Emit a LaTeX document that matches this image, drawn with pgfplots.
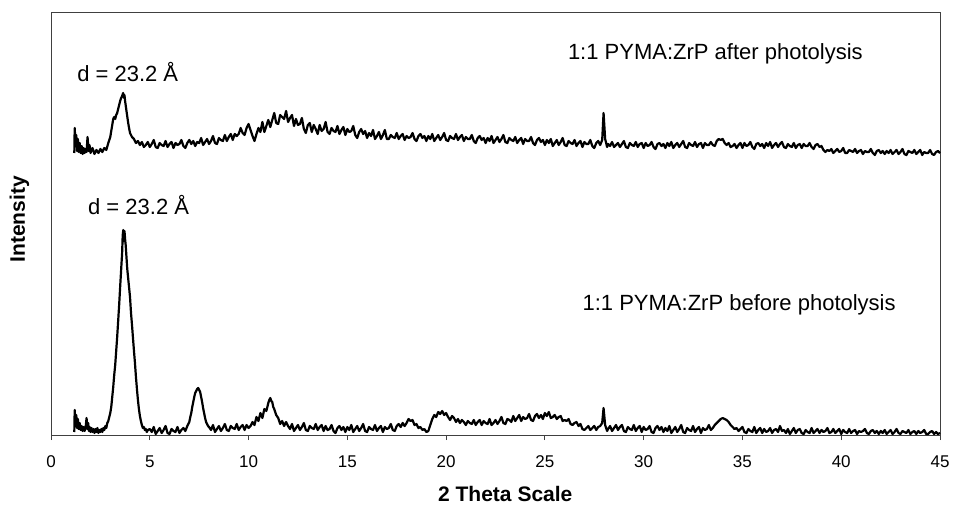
\documentclass[border=0pt]{standalone}
\usepackage{fontspec}
\setmainfont{Liberation Sans}
\usepackage{pgfplots}
\pgfplotsset{compat=1.18}
\begin{document}
\begin{tikzpicture}
\begin{axis}[
  scale only axis, width=889pt, height=423pt,
  xmin=0, xmax=45, ymin=0, ymax=423,
  xtick={0,5,...,45}, ytick=\empty,
  xtick pos=bottom, tick align=outside,
  major tick length=5pt,
  axis line style={line width=0.8pt, black!75},
  tick style={line width=0.8pt, black!75},
  /pgf/number format/assume math mode=true,
  xticklabel style={font=\fontsize{17}{17}\selectfont, anchor=north, yshift=-12pt},
  xlabel={2 Theta Scale},
  xlabel style={font=\fontsize{21}{21}\selectfont\bfseries, at={(rel axis cs:0.511,0)}, anchor=base, yshift=-66pt},
  ylabel={Intensity},
  ylabel style={font=\fontsize{21}{21}\selectfont\bfseries, at={(rel axis cs:0,0.51)}, anchor=center, yshift=31.5pt},
  clip=false,
]
% before photolysis
\addplot[black, line width=2.2pt, line join=round] coordinates {
(1.18,3)(1.20,25)(1.24,10)(1.28,20)(1.32,7)(1.36,16)(1.40,6)(1.45,12)(1.50,5)(1.55,9)(1.60,4)(1.65,8)(1.70,4)(1.75,7)(1.80,17)(1.84,6)(1.88,12)(1.92,4)(1.96,8)
(2.00,3)(2.05,7)(2.10,3)(2.15,6)(2.20,2)(2.25,6)(2.30,3)(2.35,7)(2.40,2)(2.45,5)(2.50,3)(2.55,6)(2.60,3)(2.65,7)(2.70,5)(2.75,9)(2.80,7)(2.85,12)(2.90,14)(2.95,18)
(3.00,22)(3.05,28)(3.10,38)(3.15,48)(3.20,60)(3.25,70)(3.30,84)(3.35,98)(3.40,114)(3.45,130)(3.50,148)(3.55,165)(3.60,182)(3.63,200)(3.66,205)(3.69,194)(3.72,204)(3.75,196)(3.78,190)(3.82,178)(3.86,166)(3.90,158)(3.95,148)
(4.00,138)(4.05,122)(4.10,110)(4.15,97)(4.20,84)(4.25,72)(4.30,58)(4.35,46)(4.40,35)(4.45,26)(4.50,19)(4.55,14)(4.60,10)(4.65,7)(4.70,8)(4.75,5)(4.80,6)(4.85,3)(4.90,5)
(5.0,6)(5.1,3)(5.2,8)(5.3,1)(5.4,4)(5.5,7)(5.6,2)(5.7,5)(5.8,9)(5.9,2)(6.0,1)(6.1,6)(6.2,4)(6.3,3)(6.4,8)(6.5,2)(6.6,5)(6.7,7)(6.8,4)(6.9,9)
(7.0,13)(7.05,18)(7.10,22)(7.15,28)(7.20,33)(7.25,38)(7.30,42)(7.35,44)(7.40,46)(7.45,47)(7.50,45)(7.55,43)(7.60,38)(7.65,33)(7.70,27)(7.75,22)(7.80,17)(7.85,13)(7.90,11)(7.95,9)
(8.0,8)(8.1,5)(8.2,10)(8.3,3)(8.4,6)(8.5,9)(8.6,4)(8.7,7)(8.8,11)(8.9,5)(9.0,4)(9.1,9)(9.2,7)(9.3,6)(9.4,11)(9.5,5)(9.6,8)(9.7,10)(9.8,5)(9.9,10)(10.0,7)(10.1,9)
(10.2,13)(10.3,10)(10.4,18)(10.5,14)(10.6,22)(10.7,17)(10.8,26)(10.9,24)(11.0,32)(11.05,35)(11.1,37)(11.15,34)(11.2,33)(11.25,28)(11.3,26)(11.4,20)(11.5,17)(11.6,11)(11.7,14)(11.8,9)(11.9,13)
(12.0,9)(12.1,6)(12.2,11)(12.3,4)(12.4,7)(12.5,10)(12.6,5)(12.7,8)(12.8,12)(12.9,5)(13.0,4)(13.1,9)(13.2,7)(13.3,6)(13.4,11)(13.5,5)(13.6,8)(13.7,10)(13.8,4)(13.9,9)
(14.0,5)(14.1,6)(14.2,10)(14.3,4)(14.4,2)(14.5,7)(14.6,9)(14.7,5)(14.8,8)(14.9,3)(15.0,8)(15.1,5)(15.2,10)(15.3,3)(15.4,6)(15.5,9)(15.6,4)(15.7,7)(15.8,11)(15.9,4)
(16.0,3)(16.1,8)(16.2,6)(16.3,5)(16.4,10)(16.5,4)(16.6,7)(16.7,9)(16.8,3)(16.9,8)(17.0,6)(17.1,7)(17.2,11)(17.3,5)(17.4,4)(17.5,9)(17.6,11)(17.7,8)(17.8,12)(17.9,9)
(18.0,12)(18.1,16)(18.2,14)(18.3,15)(18.4,10)(18.5,11)(18.6,7)(18.7,8)(18.8,5)(18.9,6)(19.0,3)(19.1,4)(19.2,10)(19.3,16)(19.4,20)(19.5,18)(19.6,23)(19.7,21)(19.8,24)(19.9,20)
(20.0,22)(20.1,18)(20.2,15)(20.3,19)(20.4,17)(20.5,13)(20.6,16)(20.7,12)(20.8,15)(20.9,13)(21.0,10)(21.1,14)(21.2,12)(21.3,11)(21.4,15)(21.5,10)(21.6,13)(21.7,15)(21.8,10)(21.9,14)
(22.0,12)(22.1,11)(22.2,16)(22.3,10)(22.4,12)(22.5,15)(22.6,11)(22.7,14)(22.8,18)(22.9,12)(23.0,11)(23.1,16)(23.2,15)(23.3,13)(23.4,19)(23.5,14)(23.6,17)(23.7,20)(23.8,14)(23.9,18)
(24.0,16)(24.1,17)(24.2,21)(24.3,15)(24.4,14)(24.5,19)(24.6,21)(24.7,17)(24.8,20)(24.9,16)(25.0,22)(25.1,19)(25.2,23)(25.3,17)(25.4,18)(25.5,20)(25.6,16)(25.7,18)(25.8,19)(25.9,14)
(26.0,15)(26.1,14)(26.2,16)(26.3,11)(26.4,10)(26.5,12)(26.6,13)(26.7,9)(26.8,11)(26.9,6)(27.0,5)(27.1,7)(27.2,9)(27.3,5)(27.4,7)(27.5,9)(27.6,5)(27.7,8)(27.8,9)(27.9,12)(27.97,27)(28.05,10)(28.15,4)
(28.2,6)(28.3,9)(28.4,4)(28.5,7)(28.6,10)(28.7,5)(28.8,8)(28.9,10)(29.0,4)(29.1,3)(29.2,8)(29.3,6)(29.4,5)(29.5,10)(29.6,4)(29.7,7)(29.8,9)(29.9,3)
(30.0,8)(30.1,5)(30.2,6)(30.3,9)(30.4,3)(30.5,2)(30.6,7)(30.7,9)(30.8,5)(30.9,8)(31.0,3)(31.1,7)(31.2,4)(31.3,9)(31.4,2)(31.5,5)(31.6,8)(31.7,3)(31.8,6)(31.9,10)
(32.0,3)(32.1,2)(32.2,7)(32.3,5)(32.4,4)(32.5,9)(32.6,3)(32.7,6)(32.8,8)(32.9,2)(33.0,7)(33.1,5)(33.2,6)(33.3,10)(33.4,5)(33.5,7)(33.6,10)(33.7,12)(33.8,14)(33.9,16)
(34.0,17)(34.1,16)(34.2,15)(34.3,13)(34.4,10)(34.5,8)(34.6,6)(34.7,7)(34.8,4)(34.9,6)(35.0,8)(35.1,3)(35.2,2)(35.3,6)(35.4,4)(35.5,3)(35.6,8)(35.7,2)(35.8,5)(35.9,7)
(36.0,2)(36.1,6)(36.2,3)(36.3,4)(36.4,7)(36.5,2)(36.6,5)(36.7,6)(36.8,3)(36.9,9)(37.0,4)(37.1,5)(37.2,2)(37.3,6)(37.4,1)(37.5,4)(37.6,7)(37.7,2)(37.8,5)(37.9,6)
(38.0,2)(38.1,1)(38.2,5)(38.3,3)(38.4,2)(38.5,7)(38.6,2)(38.7,4)(38.8,6)(38.9,2)(39.0,5)(39.1,3)(39.2,4)(39.3,7)(39.4,2)(39.5,3)(39.6,6)(39.7,2)(39.8,4)(39.9,6)
(40.0,1)(40.1,5)(40.2,3)(40.3,2)(40.4,6)(40.5,2)(40.6,4)(40.7,5)(40.8,1)(40.9,4)(41.0,3)(41.1,4)(41.2,6)(41.3,2)(41.4,1)(41.5,4)(41.6,5)(41.7,2)(41.8,4)(41.9,1)
(42.0,4)(42.1,2)(42.2,5)(42.3,1)(42.4,3)(42.5,5)(42.6,1)(42.7,3)(42.8,6)(42.9,2)(43.0,1)(43.1,4)(43.2,3)(43.3,2)(43.4,5)(43.5,1)(43.6,3)(43.7,4)(43.8,1)(43.9,4)
(44.0,2)(44.1,3)(44.2,5)(44.3,1)(44.4,1)(44.5,3)(44.6,4)(44.7,1)(44.8,3)(44.9,1)(45.0,2)
};
% after photolysis
\addplot[black, line width=2.2pt, line join=round] coordinates {
(1.18,282)(1.20,307)(1.24,290)(1.28,300)(1.32,284)(1.36,296)(1.40,283)(1.45,292)(1.50,282)(1.55,289)(1.60,281)(1.65,287)(1.70,282)(1.75,286)(1.80,283)(1.85,298)(1.90,284)(1.95,290)
(2.00,282)(2.1,287)(2.2,281)(2.3,285)(2.4,282)(2.5,286)(2.6,283)(2.7,287)(2.8,285)(2.9,292)
(3.0,298)(3.05,304)(3.1,310)(3.15,316)(3.2,318)(3.25,316)(3.3,320)(3.35,322)(3.4,326)(3.45,330)(3.5,334)(3.55,337)(3.6,339)(3.65,342)(3.7,337)(3.72,340)(3.75,334)(3.8,327)(3.85,320)(3.9,313)(3.95,307)
(4.0,302)(4.1,298)(4.2,296)(4.3,292)
(4.4,294)(4.5,290)(4.6,293)(4.7,288)(4.8,290)(4.9,293)(5.0,288)(5.1,291)(5.2,295)(5.3,288)(5.4,287)(5.5,292)(5.6,290)(5.7,289)(5.8,294)(5.9,288)
(6.0,291)(6.1,293)(6.2,287)(6.3,292)(6.4,290)(6.5,291)(6.6,295)(6.7,289)(6.8,287)(6.9,292)(7.0,295)(7.1,291)(7.2,294)(7.3,289)(7.4,293)(7.5,292)(7.6,297)(7.7,290)(7.8,293)(7.9,296)
(8.0,291)(8.1,294)(8.2,299)(8.3,292)(8.4,291)(8.5,297)(8.6,295)(8.7,294)(8.8,300)(8.9,294)(9.0,298)(9.1,301)(9.2,295)(9.3,301)(9.4,299)(9.5,301)(9.6,307)(9.7,302)(9.8,300)(9.9,307)
(10.0,311)(10.1,305)(10.2,299)(10.3,294)(10.4,301)(10.5,307)(10.6,303)(10.7,313)(10.8,303)(10.9,309)(11.0,315)(11.1,308)(11.2,315)(11.3,322)(11.4,312)(11.5,311)(11.6,320)(11.7,318)(11.8,316)(11.9,324)
(12.0,313)(12.1,317)(12.2,320)(12.3,309)(12.4,316)(12.5,310)(12.6,311)(12.7,317)(12.8,306)(12.9,302)(13.0,310)
(13.1,312)(13.2,303)(13.3,310)(13.4,306)(13.5,301)(13.6,310)(13.7,304)(13.8,306)(13.9,313)(14.0,303)(14.1,301)(14.2,307)(14.3,304)(14.4,303)(14.5,309)(14.6,301)(14.7,305)(14.8,308)(14.9,300)
(15.0,306)(15.1,303)(15.2,304)(15.3,309)(15.4,300)(15.5,297)(15.6,303)(15.7,306)(15.8,301)(15.9,304)(16.0,297)(16.1,302)(16.2,299)(16.3,305)(16.4,296)(16.5,299)(16.6,303)(16.7,296)(16.8,300)(16.9,305)
(17.0,296)(17.1,296)(17.2,300)(17.3,298)(17.4,297)(17.5,302)(17.6,296)(17.7,299)(17.8,301)(17.9,295)(18.0,299)(18.1,297)(18.2,298)(18.3,302)(18.4,296)(18.5,294)(18.6,299)(18.7,301)(18.8,297)(18.9,299)
(19.0,294)(19.1,299)(19.2,296)(19.3,301)(19.4,294)(19.5,297)(19.6,300)(19.7,295)(19.8,298)(19.9,302)(20.0,295)(20.1,294)(20.2,299)(20.3,297)(20.4,296)(20.5,301)(20.6,295)(20.7,298)(20.8,300)(20.9,294)
(21.0,298)(21.1,296)(21.2,296)(21.3,300)(21.4,294)(21.5,292)(21.6,297)(21.7,299)(21.8,295)(21.9,297)(22.0,292)(22.1,297)(22.2,294)(22.3,299)(22.4,292)(22.5,295)(22.6,298)(22.7,293)(22.8,296)(22.9,300)
(23.0,293)(23.1,292)(23.2,297)(23.3,295)(23.4,294)(23.5,298)(23.6,292)(23.7,295)(23.8,297)(23.9,291)(24.0,296)(24.1,294)(24.2,294)(24.3,298)(24.4,292)(24.5,290)(24.6,295)(24.7,297)(24.8,293)(24.9,295)
(25.0,290)(25.1,295)(25.2,292)(25.3,296)(25.4,289)(25.5,292)(25.6,295)(25.7,290)(25.8,293)(25.9,297)(26.0,290)(26.1,289)(26.2,294)(26.3,292)(26.4,291)(26.5,295)(26.6,289)(26.7,292)(26.8,294)(26.9,288)
(27.0,293)(27.1,291)(27.2,291)(27.3,295)(27.4,289)(27.5,287)(27.6,292)(27.7,294)(27.8,290)(27.9,295)(27.97,322)(28.05,296)(28.15,288)
(28.2,291)(28.3,289)(28.4,293)(28.5,288)(28.6,290)(28.7,292)(28.8,288)(28.9,291)(29.0,294)(29.1,288)(29.2,287)(29.3,292)(29.4,290)(29.5,289)(29.6,293)(29.7,288)(29.8,291)(29.9,292)
(30.0,287)(30.1,292)(30.2,289)(30.3,290)(30.4,293)(30.5,288)(30.6,286)(30.7,291)(30.8,292)(30.9,289)(31.0,291)(31.1,287)(31.2,292)(31.3,289)(31.4,293)(31.5,287)(31.6,290)(31.7,292)(31.8,288)(31.9,291)
(32.0,294)(32.1,288)(32.2,287)(32.3,292)(32.4,290)(32.5,289)(32.6,293)(32.7,288)(32.8,291)(32.9,292)(33.0,287)(33.1,292)(33.2,290)(33.3,290)(33.4,293)(33.5,290)(33.6,289)(33.7,294)(33.8,296)(33.9,295)
(34.0,296)(34.1,292)(34.2,290)(34.3,292)(34.4,288)(34.5,289)(34.6,291)(34.7,287)(34.8,290)(34.9,292)(35.0,287)(35.1,292)(35.2,289)(35.3,290)(35.4,293)(35.5,288)(35.6,286)(35.7,291)(35.8,292)(35.9,289)
(36.0,291)(36.1,287)(36.2,292)(36.3,289)(36.4,293)(36.5,287)(36.6,290)(36.7,292)(36.8,288)(36.9,291)(37.0,293)(37.1,288)(37.2,287)(37.3,291)(37.4,289)(37.5,288)(37.6,292)(37.7,287)(37.8,290)(37.9,291)
(38.0,287)(38.1,291)(38.2,289)(38.3,289)(38.4,292)(38.5,288)(38.6,286)(38.7,290)(38.8,291)(38.9,288)(39.0,289)(39.1,285)(39.2,283)
(39.3,285)(39.4,284)(39.5,286)(39.6,282)(39.7,284)(39.8,286)(39.9,283)(40.0,284)(40.1,287)(40.2,282)(40.3,282)(40.4,285)(40.5,284)(40.6,283)(40.7,286)(40.8,282)(40.9,284)
(41.0,285)(41.1,281)(41.2,284)(41.3,283)(41.4,283)(41.5,286)(41.6,282)(41.7,280)(41.8,284)(41.9,285)(42.0,282)(42.1,284)(42.2,281)(42.3,284)(42.4,282)(42.5,285)(42.6,281)(42.7,283)(42.8,285)(42.9,281)
(43.0,283)(43.1,286)(43.2,281)(43.3,280)(43.4,284)(43.5,283)(43.6,282)(43.7,285)(43.8,281)(43.9,283)(44.0,285)(44.1,280)(44.2,283)(44.3,282)(44.4,282)(44.5,285)(44.6,281)(44.7,280)(44.8,283)(44.9,284)(45.0,282)
};
\node[anchor=base west, inner sep=0pt, font=\fontsize{22}{22}\selectfont] at (axis cs:1.32,353) {d = 23.2 Å};
\node[anchor=base west, inner sep=0pt, font=\fontsize{22}{22}\selectfont] at (axis cs:1.87,221) {d = 23.2 Å};
\node[anchor=base west, inner sep=0pt, font=\fontsize{22}{22}\selectfont] at (axis cs:26.16,375.7) {1:1 PYMA:ZrP after photolysis};
\node[anchor=base west, inner sep=0pt, font=\fontsize{22}{22}\selectfont] at (axis cs:26.9,125) {1:1 PYMA:ZrP before photolysis};
\end{axis}
\pgfresetboundingbox
\path ([xshift=-51pt,yshift=-69pt]current axis.south west) rectangle ([xshift=13pt,yshift=12pt]current axis.north east);
\end{tikzpicture}
\end{document}
